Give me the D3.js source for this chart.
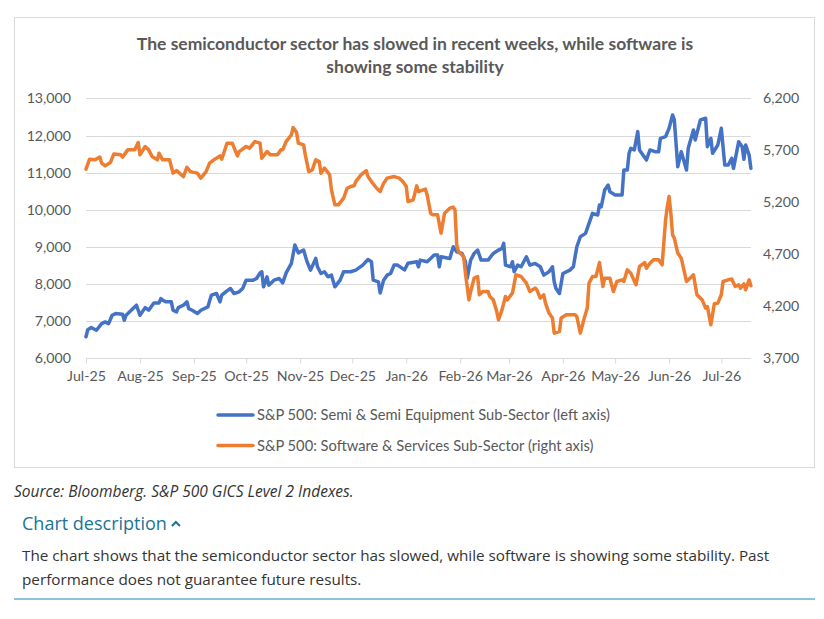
<!DOCTYPE html>
<html>
<head>
<meta charset="utf-8">
<script src="https://cdn.jsdelivr.net/npm/d3@7"></script>
<style>
  html, body { margin: 0; padding: 0; background: #fff; }
  svg { display: block; font-family: Lato, "Open Sans", sans-serif; }
</style>
</head>
<body>
<svg id="chart" width="824" height="619"></svg>
<script>
// day offsets from 1 Jul 2025, index value
const semiSeries = [[0,6580],[1,6770],[3,6830],[6,6755],[9,6935],[11,6980],[13,6935],[15,7160],[17,7205],[21,7185],[22,7025],[23,7160],[26,7295],[29,7430],[31,7160],[34,7365],[36,7295],[39,7490],[42,7490],[43,7610],[44,7565],[46,7520],[49,7520],[50,7295],[52,7250],[53,7365],[56,7430],[58,7520],[59,7340],[61,7295],[64,7205],[66,7295],[70,7385],[72,7700],[75,7745],[77,7520],[78,7700],[81,7815],[83,7880],[85,7745],[88,7790],[90,7880],[92,8105],[96,8105],[98,8150],[100,8300],[101,8330],[102,7925],[104,8195],[105,7970],[108,8105],[111,8150],[113,8030],[115,8300],[118,8555],[120,9050],[122,8840],[125,8915],[127,8600],[129,8375],[132,8690],[133,8465],[135,8285],[137,8330],[139,8195],[141,8240],[143,7925],[146,8105],[148,8330],[152,8330],[155,8375],[159,8510],[162,8660],[164,8600],[165,8105],[168,8060],[169,7760],[171,8105],[173,8240],[175,8285],[177,8510],[179,8510],[183,8380],[185,8560],[190,8600],[191,8465],[192,8645],[196,8600],[198,8690],[200,8780],[202,8780],[203,8465],[204,8735],[209,8690],[211,9005],[213,8870],[216,8825],[218,8600],[219,8150],[221,8645],[223,8825],[225,8915],[227,8645],[231,8645],[234,8825],[237,8915],[239,8960],[240,9095],[241,8510],[244,8465],[245,8600],[246,8330],[248,8510],[250,8465],[253,8735],[255,8510],[258,8555],[261,8465],[263,8240],[266,8330],[268,8465],[269,8060],[270,7880],[272,7745],[274,8285],[278,8375],[280,8465],[282,9005],[284,9275],[287,9365],[289,9635],[291,9905],[294,9860],[295,10130],[296,10080],[298,10530],[300,10665],[301,10485],[304,10400],[308,10400],[309,11070],[311,11070],[312,11520],[313,11655],[315,11610],[317,12105],[318,11610],[320,11475],[322,11340],[324,11610],[327,11565],[329,11565],[330,11925],[333,11970],[335,12195],[337,12555],[338,12420],[340,11160],[342,11565],[345,11070],[346,11655],[349,12150],[350,11880],[353,12420],[356,12465],[357,11700],[359,11925],[360,11520],[363,11745],[365,12195],[367,11205],[369,11205],[371,11385],[372,11115],[375,11835],[377,11700],[378,11360],[379,11745],[381,11475],[382,11115]];

const softSeries = [[0,5519],[2,5615],[5,5609],[8,5635],[9,5577],[11,5551],[14,5583],[16,5666],[20,5657],[21,5635],[24,5705],[28,5705],[30,5775],[31,5657],[34,5737],[36,5705],[38,5640],[41,5609],[42,5673],[44,5609],[48,5609],[50,5481],[52,5506],[56,5448],[58,5538],[60,5496],[64,5481],[66,5433],[69,5496],[71,5577],[74,5615],[77,5647],[78,5615],[81,5769],[84,5769],[87,5647],[88,5688],[92,5737],[94,5721],[97,5785],[100,5769],[101,5625],[104,5688],[106,5657],[110,5657],[112,5705],[113,5705],[115,5785],[118,5849],[119,5919],[121,5871],[122,5769],[125,5753],[126,5657],[128,5496],[130,5512],[132,5609],[134,5592],[135,5481],[137,5529],[140,5464],[141,5320],[143,5176],[145,5176],[148,5240],[150,5336],[152,5352],[154,5359],[155,5400],[158,5464],[161,5506],[162,5448],[164,5400],[167,5336],[169,5304],[171,5385],[173,5433],[177,5448],[180,5433],[182,5400],[184,5352],[185,5208],[188,5224],[190,5359],[191,5304],[195,5327],[196,5272],[198,5096],[199,5080],[202,5080],[204,4904],[206,5096],[209,5144],[211,5154],[212,5128],[213,4791],[214,4727],[217,4679],[218,4519],[220,4262],[221,4342],[223,4471],[225,4487],[226,4311],[228,4342],[231,4342],[232,4294],[234,4262],[236,4150],[237,4070],[239,4166],[241,4294],[242,4262],[245,4327],[247,4503],[250,4487],[253,4423],[255,4342],[258,4375],[259,4359],[261,4279],[263,4311],[264,4231],[266,4135],[268,4087],[269,3942],[272,3958],[273,4087],[276,4118],[281,4118],[282,4102],[284,3942],[286,4070],[288,4183],[289,4423],[291,4487],[293,4487],[295,4621],[297,4391],[298,4471],[301,4471],[303,4342],[305,4439],[308,4455],[309,4439],[311,4551],[313,4519],[316,4407],[318,4583],[321,4621],[322,4567],[324,4615],[326,4647],[329,4647],[331,4599],[333,5032],[334,5160],[335,5256],[336,5096],[337,4887],[338,4856],[340,4712],[342,4663],[345,4439],[347,4471],[349,4503],[351,4311],[354,4262],[356,4183],[357,4198],[359,4022],[361,4224],[363,4231],[365,4311],[366,4439],[369,4455],[371,4462],[373,4391],[375,4407],[376,4375],[378,4417],[379,4359],[381,4455],[382,4398]];

const leftTicks = [6000, 7000, 8000, 9000, 10000, 11000, 12000, 13000];
const rightTicks = [3700, 4200, 4700, 5200, 5700, 6200];
const seriesNames = [
  "S&P 500: Semi & Semi Equipment Sub-Sector (left axis)",
  "S&P 500: Software & Services Sub-Sector (right axis)"
];
const seriesColors = ["#4472c4", "#ed7d31"];
const titleLines = [
  "The semiconductor sector has slowed in recent weeks, while software is",
  "showing some stability"
];
const sourceText = "Source: Bloomberg. S&P 500 GICS Level 2 Indexes.";
const descLines = [
  "The chart shows that the semiconductor sector has slowed, while software is showing some stability. Past",
  "performance does not guarantee future results."
];

const startDate = new Date(2025, 6, 1);
const toDate = d => d3.timeDay.offset(startDate, d);
const lastDay = d3.max(semiSeries, d => d[0]);
const pageFont = "'Open Sans', Lato, sans-serif";

const svg = d3.select("#chart");

// chart frame
svg.append("rect")
  .attr("x", 14.5).attr("y", 17.5)
  .attr("width", 800).attr("height", 450)
  .attr("fill", "#fff").attr("stroke", "#d9d9d9");

const x = d3.scaleTime()
  .domain([startDate, new Date(2026, 6, 1)])
  .range([86, 721.3]);
const xEnd = x(toDate(lastDay));
const yL = d3.scaleLinear().domain([6000, 13000]).range([358.3, 98.4]);
const yR = d3.scaleLinear().domain([3700, 6200]).range([358.3, 98.4]);

// title
svg.append("g").selectAll("text")
  .data(titleLines).join("text")
  .attr("x", 415).attr("y", (d, i) => 49.5 + i * 23)
  .attr("text-anchor", "middle")
  .attr("font-size", 17.5).attr("font-weight", "bold")
  .attr("fill", "#595959")
  .text(d => d);

// gridlines
svg.append("g").selectAll("line")
  .data(leftTicks).join("line")
  .attr("x1", 86).attr("x2", xEnd)
  .attr("y1", d => Math.round(yL(d)) + 0.5).attr("y2", d => Math.round(yL(d)) + 0.5)
  .attr("stroke", "#d9d9d9").attr("stroke-width", 1);

// x axis
const xAxis = svg.append("g")
  .attr("transform", `translate(0,${Math.round(yL(6000)) + 0.5})`)
  .call(d3.axisBottom(x)
    .ticks(d3.timeMonth.every(1))
    .tickFormat(d3.timeFormat("%b-%y"))
    .tickSize(5).tickPadding(7));
xAxis.select(".domain").attr("stroke", "#d9d9d9").attr("d", `M86,0H${xEnd}`);
xAxis.selectAll(".tick line").attr("stroke", "#d9d9d9");
xAxis.selectAll(".tick text")
  .attr("font-family", "Lato, sans-serif").attr("font-size", 14.2).attr("fill", "#595959");

// left axis
const leftAxis = svg.append("g")
  .attr("transform", "translate(71,0)")
  .call(d3.axisLeft(yL).tickValues(leftTicks).tickFormat(d3.format(",")).tickSize(0).tickPadding(0));
leftAxis.select(".domain").remove();
leftAxis.selectAll("text")
  .attr("font-family", "Lato, sans-serif").attr("font-size", 14.2).attr("fill", "#595959");

// right axis
const rightAxis = svg.append("g")
  .attr("transform", "translate(763,0)")
  .call(d3.axisRight(yR).tickValues(rightTicks).tickFormat(d3.format(",")).tickSize(0).tickPadding(0));
rightAxis.select(".domain").remove();
rightAxis.selectAll("text")
  .attr("font-family", "Lato, sans-serif").attr("font-size", 14.2).attr("fill", "#595959");

// lines
const lineL = d3.line().x(d => x(toDate(d[0]))).y(d => yL(d[1]));
const lineR = d3.line().x(d => x(toDate(d[0]))).y(d => yR(d[1]));

svg.append("path")
  .datum(semiSeries)
  .attr("d", lineL)
  .attr("fill", "none").attr("stroke", seriesColors[0])
  .attr("stroke-width", 3.5).attr("stroke-linejoin", "round").attr("stroke-linecap", "round");

svg.append("path")
  .datum(softSeries)
  .attr("d", lineR)
  .attr("fill", "none").attr("stroke", seriesColors[1])
  .attr("stroke-width", 3.5).attr("stroke-linejoin", "round").attr("stroke-linecap", "round");

// legend
const legend = svg.append("g").selectAll("g")
  .data(seriesNames).join("g")
  .attr("transform", (d, i) => `translate(218,${415 + i * 30.5})`);
legend.append("line")
  .attr("x1", 0).attr("x2", 35).attr("y1", 0).attr("y2", 0)
  .attr("stroke", (d, i) => seriesColors[i]).attr("stroke-width", 3.5).attr("stroke-linecap", "round");
legend.append("text")
  .attr("x", 39).attr("y", 5)
  .attr("font-size", 14.7).attr("fill", "#595959")
  .text(d => d);

// source note
svg.append("text")
  .attr("x", 14).attr("y", 497)
  .attr("font-family", pageFont)
  .attr("font-size", 15.5).attr("font-style", "italic").attr("fill", "#333")
  .text(sourceText);

// chart description heading
const head = svg.append("text")
  .attr("x", 22).attr("y", 530)
  .attr("font-family", pageFont)
  .attr("font-size", 18).attr("fill", "#1a7399")
  .text("Chart description");
const hw = head.node().getComputedTextLength();
svg.append("path")
  .attr("d", `M${22 + hw + 5},${526} l4,-4 l4,4`)
  .attr("fill", "none").attr("stroke", "#1a7399").attr("stroke-width", 2);

svg.append("g").selectAll("text")
  .data(descLines).join("text")
  .attr("x", 22).attr("y", (d, i) => 561 + i * 24)
  .attr("font-family", pageFont)
  .attr("font-size", 15.25).attr("fill", "#333")
  .text(d => d);

svg.append("line")
  .attr("x1", 14).attr("x2", 815).attr("y1", 599).attr("y2", 599)
  .attr("stroke", "#8fc1d8").attr("stroke-width", 2);
</script>
</body>
</html>
